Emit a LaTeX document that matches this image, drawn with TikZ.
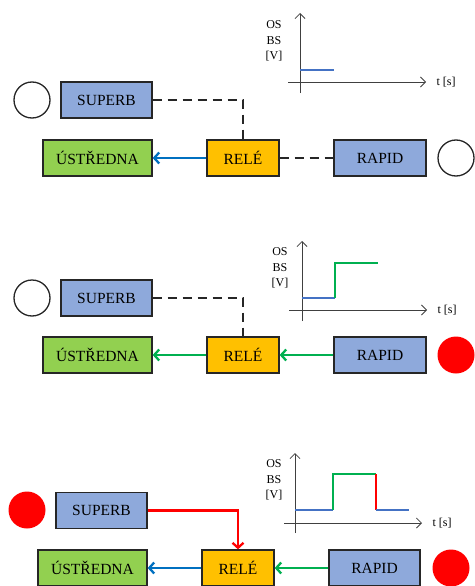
\documentclass[tikz,border=0pt]{standalone}
\usepackage{fontspec}
\setmainfont{Liberation Serif}
\usetikzlibrary{arrows.meta}

\definecolor{boxblue}{HTML}{8EA9DB}
\definecolor{boxgreen}{HTML}{92D050}
\definecolor{boxorange}{HTML}{FFC000}
\definecolor{lineblue}{HTML}{0070C0}
\definecolor{linegreen}{HTML}{00B050}
\definecolor{sigblue}{HTML}{4472C4}
\definecolor{axisgray}{HTML}{404040}

\tikzset{
  box/.style={draw=black!85, line width=1.3pt, minimum height=36pt, inner sep=0pt,
              font=\fontsize{15.5}{18}\selectfont},
  lamp/.style={circle, draw=black!85, line width=1.3pt, minimum size=36pt, inner sep=0pt},
  lampon/.style={circle, fill=red, minimum size=37pt, inner sep=0pt},
  wire/.style={line width=2.3pt},
  dashwire/.style={wire, black!85, dash pattern=on 9pt off 6pt},
  sig/.style={wire, -{Straight Barb[length=5pt,width=11pt]}},
  axis/.style={axisgray, line width=0.8pt, -{Straight Barb[length=5pt,width=10pt]}},
  unit/.style={font=\fontsize{12}{15.5}\selectfont, align=center, inner sep=0pt},
  level/.style={line width=1.8pt}
}

\begin{document}
\begin{tikzpicture}[x=1pt, y=-1pt]
\useasboundingbox (0,0) rectangle (474,586);

% first state: nothing active
\node[box, fill=boxblue, minimum width=91pt] (superbA) at (106.5,100) {SUPERB};
\node[box, fill=boxgreen, minimum width=109pt] (ustrA) at (97.5,158) {ÚSTŘEDNA};
\node[box, fill=boxorange, minimum width=72pt] (releA) at (243,158) {RELÉ};
\node[box, fill=boxblue, minimum width=92pt] (rapidA) at (380,158) {RAPID};
\node[lamp] (lampSA) at (32,100) {};
\node[lamp] (lampRA) at (456,158) {};
\draw[dashwire] (superbA.east) -| (releA.north);
\draw[dashwire] (releA.east) -- (rapidA.west);
\draw[sig, lineblue] (releA.west) -- (ustrA.east);
\draw[axis] (300,93) -- (300,13);
\draw[axis] (288,82) -- (426,82);
\node[unit] (osA) at (274,41) {OS\\BS\\{[V]}};
\node[unit] (timeA) at (446,82) {t [s]};
\draw[level, sigblue] (300,70) -- (334,70);

% second state: RAPID active
\node[box, fill=boxblue, minimum width=91pt] (superbB) at (106.5,298) {SUPERB};
\node[box, fill=boxgreen, minimum width=109pt] (ustrB) at (97.5,355) {ÚSTŘEDNA};
\node[box, fill=boxorange, minimum width=72pt] (releB) at (243,355) {RELÉ};
\node[box, fill=boxblue, minimum width=92pt] (rapidB) at (380,355) {RAPID};
\node[lamp] (lampSB) at (32,298) {};
\node[lampon] (lampRB) at (456,355) {};
\draw[dashwire] (superbB.east) -| (releB.north);
\draw[sig, linegreen] (rapidB.west) -- (releB.east);
\draw[sig, linegreen] (releB.west) -- (ustrB.east);
\draw[axis] (302,321) -- (302,241);
\draw[axis] (289,310) -- (427,310);
\node[unit] (osB) at (280,268) {OS\\BS\\{[V]}};
\node[unit] (timeB) at (447,310) {t [s]};
\draw[level, sigblue] (302,298) -- (335,298);
\draw[level, linegreen] (335,298) -- (335,263) -- (378,263);

% third state: SUPERB and RAPID active
\node[box, fill=boxblue, minimum width=91pt] (superbC) at (101.5,510.5) {SUPERB};
\node[box, fill=boxgreen, minimum width=109pt] (ustrC) at (92.5,568) {ÚSTŘEDNA};
\node[box, fill=boxorange, minimum width=72pt] (releC) at (238,568) {RELÉ};
\node[box, fill=boxblue, minimum width=91pt] (rapidC) at (374.5,568) {RAPID};
\node[lampon] (lampSC) at (27,510) {};
\node[lampon] (lampRC) at (451,568) {};
\draw[sig, red] (superbC.east) -| (releC.north);
\draw[sig, linegreen] (rapidC.west) -- (releC.east);
\draw[sig, lineblue] (releC.west) -- (ustrC.east);
\draw[axis] (295,533) -- (295,453);
\draw[axis] (284,523) -- (422,523);
\node[unit] (osC) at (274,480) {OS\\BS\\{[V]}};
\node[unit] (timeC) at (442,523) {t [s]};
\draw[level, sigblue] (295,510) -- (333,510);
\draw[level, linegreen] (333,510) -- (333,474) -- (376,474);
\draw[level, red] (376,474) -- (376,510);
\draw[level, sigblue] (376,510) -- (409,510);
\end{tikzpicture}
\end{document}
